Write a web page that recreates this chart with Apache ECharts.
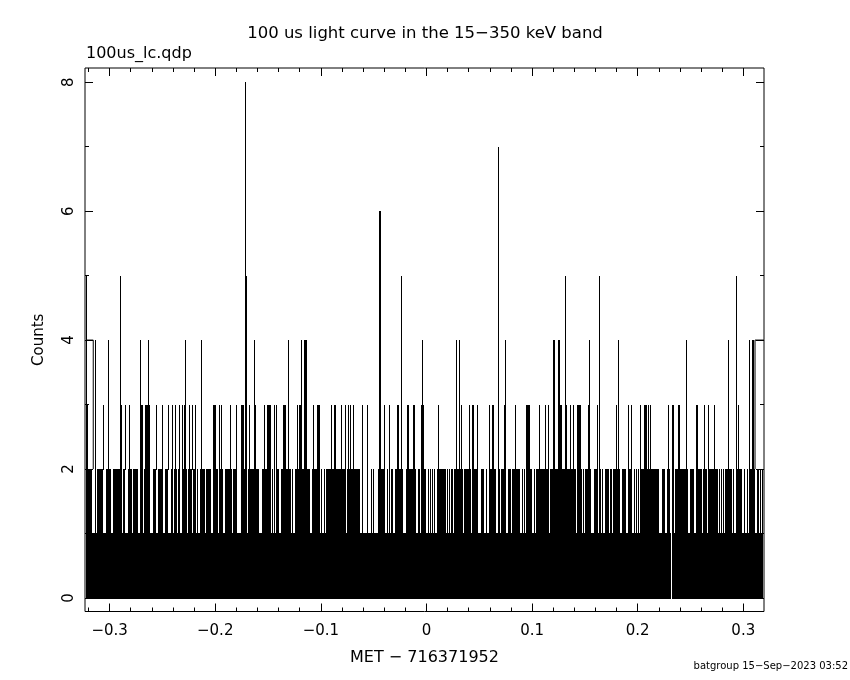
<!DOCTYPE html>
<html><head><meta charset="utf-8">
<script src="https://cdn.jsdelivr.net/npm/echarts@6/dist/echarts.min.js"></script>
<style>html,body{margin:0;padding:0;background:#fff}#c{width:850px;height:680px}</style>
</head><body><div id="c"></div>
<script>
// ---- data (time in s relative to MET 716371952, counts per 100 us bin) ----
const tStart = -0.3224, tEnd = 0.3187, binW = 0.0001;
const baseCount = 1;            // the solid 0-1 band
const zeroGaps = [[0.2313, 0.2321]];
// bins / runs of bins reaching each level ([t] = single bin, [t0,t1] = run)
const level2 = [[-0.3224,-0.3168],[-0.3123,-0.3061],[-0.3035,-0.2988],[-0.2969,-0.2886],[-0.2871,-0.2852],[-0.2830,-0.2792],[-0.2779,-0.2732],[-0.2710,-0.2688],[-0.2675,-0.2621],[-0.2590,-0.2559],[-0.2545,-0.2498],[-0.2476,-0.2445],[-0.2422,-0.2401],[-0.2388,-0.2366],[-0.2350,-0.2334],[-0.2318,-0.2271],[-0.2256,-0.2221],[-0.2208,-0.2183],[-0.2176],
  [-0.2145,-0.2098],[-0.2088,-0.2041],[-0.2022,-0.1977],[-0.1968],[-0.1955,-0.1924],[-0.1911,-0.1839],[-0.1832,-0.1797],[-0.1757,-0.1719],[-0.1688,-0.1586],[-0.1561,-0.1473],[-0.1460],[-0.1441],[-0.1422],[-0.1413,-0.1397],[-0.1378,-0.1283],[-0.1274],[-0.1245,-0.1103],[-0.1087,-0.1009],
  [-0.0999],[-0.0971,-0.0961],[-0.0952,-0.0765],[-0.0756,-0.0630],[-0.0614],[-0.0561],[-0.0523],[-0.0504],[-0.0456,-0.0393],[-0.0371],[-0.0352],[-0.0336,-0.0314],[-0.0298,-0.0220],[-0.0197,-0.0131],[-0.0121,-0.0099],[-0.0080,-0.0062],[-0.0055,-0.0005],
  [0.0011],[0.0030],[0.0049],[0.0071],[0.0097,0.0182],[0.0194],[0.0213],[0.0229,0.0251],[0.0263,0.0343],[0.0355,0.0421],[0.0434,0.0491],[0.0516,0.0547],[0.0561],[0.0604,0.0655],[0.0674],[0.0687],[0.0705,0.0753],[0.0769,0.0800],[0.0807,0.0885],[0.0902],[0.0920],[0.0939,0.1002],[0.1018],[0.1034],[0.1046],[0.1059,0.1160],
  [0.1169,0.1416],[0.1428,0.1470],[0.1485],[0.1504,0.1558],[0.1589,0.1627],[0.1643],[0.1662],[0.1688,0.1728],[0.1738,0.1757],[0.1769,0.1832],[0.1848,0.1889],[0.1905,0.1943],[0.1965],[0.1984],[0.2003],[0.2022,0.2202],
  [0.2227,0.2259],[0.2275,0.2306],[0.2322,0.2344],[0.2353,0.2479],[0.2495,0.2533],[0.2549,0.2606],[0.2621,0.2653],[0.2669,0.2758],[0.2770],[0.2789],[0.2808],[0.2827,0.2890],[0.2905],[0.2928,0.2985],[0.3009],[0.3032],[0.3063,0.3111],[0.3127],[0.3142],[0.3158],[0.3174]];
const level3 = [[-0.3224,-0.3203],[-0.3061],[-0.2890],[-0.2852],[-0.2814],[-0.2710,-0.2688],[-0.2663,-0.2621],[-0.2559],[-0.2508],[-0.2445],[-0.2410],[-0.2379],[-0.2347],[-0.2313],[-0.2296],[-0.2246],[-0.2221],[-0.2195],
  [-0.2022,-0.1993],[-0.1968],[-0.1943],[-0.1864],[-0.1801],[-0.1757,-0.1728],[-0.1678],[-0.1624],[-0.1536],[-0.1510,-0.1473],[-0.1441],[-0.1422],[-0.1362,-0.1330],[-0.1309],[-0.1226],[-0.1210],[-0.1195],[-0.1075],
  [-0.1034,-0.1011],[-0.0902],[-0.0876,-0.0860],[-0.0807],[-0.0769],[-0.0741],[-0.0722],[-0.0696],[-0.0608],[-0.0561],[-0.0405],[-0.0352],[-0.0277,-0.0263],[-0.0185,-0.0169],[-0.0128,-0.0112],[-0.0052,-0.0027],
  [0.0106],[0.0330],[0.0405],[0.0434,0.0450],[0.0478],[0.0595],[0.0620,0.0639],[0.0737],[0.0841],[0.0942,0.0977],[0.1068],
  [0.1125],[0.1153],[0.1245,0.1286],[0.1324],[0.1359],[0.1390],[0.1425,0.1466],[0.1532],[0.1612],[0.1797],[0.1911],[0.1939],[0.2025],[0.2060,0.2091],[0.2100],[0.2119],
  [0.2290],[0.2325,0.2344],[0.2382,0.2398],[0.2555,0.2568],[0.2625],[0.2669],[0.2725],[0.2950]];
const level4 = [[-0.3139],[-0.3013],[-0.2710],[-0.2634],[-0.2284],[-0.2133],[-0.1631],[-0.1309],[-0.1186],[-0.1157,-0.1132],[-0.0040],
  [0.0279,0.0292],[0.0308],[0.0746],[0.1198,0.1217],[0.1245,0.1264],[0.1542],[0.1816],[0.2455],[0.2858],[0.3057],[0.3085,0.3101]];
const level5 = [[-0.3224],[-0.2905],[-0.1712,-0.1706],[-0.0239],[0.1314],[0.1636],[0.2934]];
const level6 = [[-0.0447,-0.0434]];
const level7 = [[0.0674]];
const level8 = [[-0.1716]];
// partial edge bins drawn as brackets at count 4
const edgeLeft = [[-0.3224,4],[-0.3155,4],[-0.3155,2]];
const edgeRight = [[0.3111,2],[0.3111,4],[0.3196,4]];

const xMajor = [-0.3,-0.2,-0.1,0,0.1,0.2,0.3];
const xMajorLabels = ['\u22120.3','\u22120.2','\u22120.1','0','0.1','0.2','0.3'];
const xMinor = [-0.32,-0.28,-0.26,-0.24,-0.22,-0.18,-0.16,-0.14,-0.12,-0.08,-0.06,-0.04,-0.02,0.02,0.04,0.06,0.08,0.12,0.14,0.16,0.18,0.22,0.24,0.26,0.28,0.32];
const yMajor = [0,2,4,6,8];
const yMajorLabels = ['0','2','4','6','8'];
const yMinor = [1,3,5,7];

// ---- bin levels ----
const n = Math.round((tEnd - tStart) / binW);
const counts = new Array(n).fill(baseCount);
const idx = t => Math.max(0, Math.min(n - 1, Math.round((t - tStart) / binW)));
zeroGaps.forEach(r => { for (let i = idx(r[0]); i <= idx(r[1]); i++) counts[i] = 0; });
function apply(list, c) {
  list.forEach(r => { const a = idx(r[0]), b = idx(r.length > 1 ? r[1] : r[0]);
    for (let i = a; i <= b; i++) counts[i] = Math.max(counts[i], c); });
}
apply(level2, 2); apply(level3, 3); apply(level4, 4); apply(level5, 5);
apply(level6, 6); apply(level7, 7); apply(level8, 8);
// merged runs of bins whose count reaches each level: [t0, t1, level]
const runs = [];
for (let L = 1; L <= 8; L++) {
  for (let i = 0; i < n;) {
    if (counts[i] < L) { i++; continue; }
    let j = i; while (j + 1 < n && counts[j + 1] >= L) j++;
    runs.push([+(tStart + i * binW).toFixed(5), +(tStart + (j + 1) * binW).toFixed(5), L]);
    i = j + 1;
  }
}

const FONT = 'DejaVu Sans';
const xMin = -0.3233, xMax = 0.3196, yMin = -0.21, yMax = 8.22;
const lab = (vals, labels) => v => { let k = 0, d = 1e9; vals.forEach((u, i) => { if (Math.abs(u - v) < d) { d = Math.abs(u - v); k = i; } }); return labels[k]; };
function xa(pos, vals, len, labels) {
  return { type: 'value', min: xMin, max: xMax, position: pos, axisLine: { show: false, onZero: false }, splitLine: { show: false }, splitArea: { show: false },
    axisTick: { show: true, inside: true, length: len, customValues: vals, lineStyle: { color: '#000', width: 1 } },
    axisLabel: labels ? { show: true, customValues: vals, formatter: lab(vals, labels), color: '#000', fontSize: 15, fontFamily: FONT, margin: 12 } : { show: false } };
}
function ya(pos, vals, len, labels) {
  return { type: 'value', min: yMin, max: yMax, position: pos, axisLine: { show: false, onZero: false }, splitLine: { show: false }, splitArea: { show: false },
    axisTick: { show: true, inside: true, length: len, customValues: vals, lineStyle: { color: '#000', width: 1 } },
    axisLabel: labels ? { show: true, customValues: vals, formatter: lab(vals, labels), rotate: 90, color: '#000', fontSize: 15, fontFamily: FONT, margin: 8 } : { show: false } };
}
const xs = [xa('bottom', xMajor, 8, xMajorLabels), xa('bottom', xMinor, 4), xa('top', xMajor, 8), xa('top', xMinor, 4)];
Object.assign(xs[0], { name: 'MET \u2212 716371952', nameLocation: 'middle', nameGap: 38, nameTextStyle: { color: '#000', fontSize: 16, fontFamily: FONT } });
const ys = [ya('left', yMajor, 8, yMajorLabels), ya('left', yMinor, 4), ya('right', yMajor, 8), ya('right', yMinor, 4)];
Object.assign(ys[0], { name: 'Counts', nameLocation: 'middle', nameGap: 38, nameRotate: 90, nameTextStyle: { color: '#000', fontSize: 15, fontFamily: FONT } });

const chart = echarts.init(document.getElementById('c'), null, { renderer: 'canvas' });
chart.setOption({
  animation: false,
  backgroundColor: '#fff',
  grid: { left: 85, right: 86, top: 68, bottom: 68.5, show: true, borderColor: '#000', borderWidth: 1, backgroundColor: 'transparent' },
  xAxis: xs,
  yAxis: ys,
  title: { text: '100 us light curve in the 15\u2212350 keV band', left: 'center', top: 20,
    textStyle: { color: '#000', fontSize: 16.5, fontWeight: 'normal', fontFamily: FONT } },
  graphic: [
    { type: 'text', left: 86, top: 46, style: { text: '100us_lc.qdp', fill: '#000', font: '16px "' + FONT + '"' } },
    { type: 'text', right: 2, top: 661, style: { text: 'batgroup 15\u2212Sep\u22122023 03:52', fill: '#000', font: '10px "' + FONT + '"' } }
  ],
  series: [
    { type: 'custom', data: runs, xAxisIndex: 0, yAxisIndex: 0, silent: true, encode: { x: [0, 1], y: 2 },
      renderItem: (params, api) => {
        const p0 = api.coord([api.value(0), api.value(2)]);
        const p1 = api.coord([api.value(1), api.value(2) - 1]);
        const x0 = Math.round(p0[0]);
        const x1 = Math.max(x0 + 1, Math.round(p1[0]));
        const y0 = Math.round(p0[1]), y1 = Math.round(p1[1]) + 1;
        return { type: 'rect', shape: { x: x0, y: y0, width: x1 - x0, height: y1 - y0 }, style: { fill: '#000' } };
      } },
    { type: 'line', data: edgeLeft, xAxisIndex: 0, yAxisIndex: 0, symbol: 'none', silent: true, lineStyle: { color: '#000', width: 1 } },
    { type: 'line', data: edgeRight, xAxisIndex: 0, yAxisIndex: 0, symbol: 'none', silent: true, lineStyle: { color: '#000', width: 1 } }
  ]
});
</script></body></html>
